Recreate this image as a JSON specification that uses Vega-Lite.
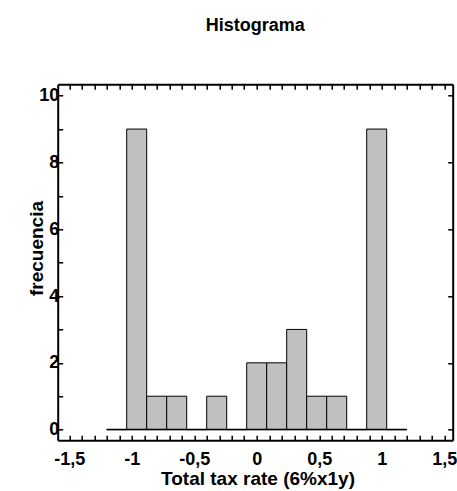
{
  "$schema": "https://vega.github.io/schema/vega-lite/v6.json",
  "width": 395,
  "height": 356,
  "autosize": "none",
  "padding": {"left": 57.7, "top": 84.3, "right": 4.3, "bottom": 50.7},
  "background": "white",
  "title": {"text": "Histograma", "font": "Liberation Sans", "fontSize": 18, "fontWeight": "bold", "color": "black", "anchor": "middle", "baseline": "alphabetic", "offset": 35},
  "config": {"view": {"stroke": null}, "font": "Liberation Sans"},
  "data": {"values": [
    {"bin_start": -1.2, "bin_end": -1.04, "count": 0},
    {"bin_start": -1.04, "bin_end": -0.88, "count": 9},
    {"bin_start": -0.88, "bin_end": -0.72, "count": 1},
    {"bin_start": -0.72, "bin_end": -0.56, "count": 1},
    {"bin_start": -0.56, "bin_end": -0.4, "count": 0},
    {"bin_start": -0.4, "bin_end": -0.24, "count": 1},
    {"bin_start": -0.24, "bin_end": -0.08, "count": 0},
    {"bin_start": -0.08, "bin_end": 0.08, "count": 2},
    {"bin_start": 0.08, "bin_end": 0.24, "count": 2},
    {"bin_start": 0.24, "bin_end": 0.4, "count": 3},
    {"bin_start": 0.4, "bin_end": 0.56, "count": 1},
    {"bin_start": 0.56, "bin_end": 0.72, "count": 1},
    {"bin_start": 0.72, "bin_end": 0.88, "count": 0},
    {"bin_start": 0.88, "bin_end": 1.04, "count": 9},
    {"bin_start": 1.04, "bin_end": 1.2, "count": 0}
  ]},
  "layer": [
    {
      "mark": {"type": "rect", "fill": "#c0c0c0", "stroke": "#000000", "strokeWidth": 1},
      "encoding": {
        "x": {"field": "bin_start", "type": "quantitative",
          "scale": {"domain": [-1.592, 1.568], "nice": false, "zero": false},
          "axis": {"orient": "bottom", "title": "Total tax rate (6%x1y)",
            "values": [-1.5,-1.4,-1.3,-1.2,-1.1,-1,-0.9,-0.8,-0.7,-0.6,-0.5,-0.4,-0.3,-0.2,-0.1,0,0.1,0.2,0.3,0.4,0.5,0.6,0.7,0.8,0.9,1,1.1,1.2,1.3,1.4,1.5],
            "labelExpr": "abs(round(datum.value*10)) % 5 == 0 ? replace(toString(round(datum.value*10)/10), '.', ',') : ''",
            "labelOverlap": false, "labelFlush": false,
            "labelFont": "Liberation Sans", "labelFontSize": 18, "labelFontWeight": "bold", "labelColor": "black",
            "labelBaseline": "alphabetic", "labelPadding": 29,
            "tickSize": -5, "tickColor": "black", "tickWidth": 1.5,
            "domainColor": "black", "domainWidth": 2, "grid": false,
            "titleFont": "Liberation Sans", "titleFontSize": 19, "titleFontWeight": "bold", "titleColor": "black",
            "titleBaseline": "alphabetic", "titleY": 44.3, "titleX": 199.8}},
        "x2": {"field": "bin_end"},
        "y": {"field": "count", "type": "quantitative",
          "scale": {"domain": [-0.32, 10.34], "nice": false, "zero": false},
          "axis": {"orient": "left", "title": "frecuencia",
            "values": [0,1,2,3,4,5,6,7,8,9,10],
            "labelExpr": "datum.value % 2 == 0 ? toString(datum.value) : ''",
            "labelOverlap": false, "labelFlush": false,
            "labelFont": "Liberation Sans", "labelFontSize": 18, "labelFontWeight": "bold", "labelColor": "black",
            "labelPadding": 4,
            "tickSize": -5, "tickColor": "black", "tickWidth": 1.5,
            "domainColor": "black", "domainWidth": 2, "grid": false,
            "titleFont": "Liberation Sans", "titleFontSize": 19, "titleFontWeight": "bold", "titleColor": "black",
            "titleBaseline": "alphabetic", "titleX": -15.7, "titleY": 163.7}},
        "y2": {"datum": 0}
      }
    },
    {
      "transform": [{"aggregate": [{"op": "min", "field": "bin_start", "as": "lo"}, {"op": "max", "field": "bin_end", "as": "hi"}]}],
      "mark": {"type": "rule", "color": "black", "strokeWidth": 1.5},
      "encoding": {
        "x": {"field": "lo", "type": "quantitative",
          "scale": {"domain": [-1.592, 1.568], "nice": false, "zero": false},
          "axis": {"orient": "top", "title": null, "labels": false,
            "values": [-1.5,-1.4,-1.3,-1.2,-1.1,-1,-0.9,-0.8,-0.7,-0.6,-0.5,-0.4,-0.3,-0.2,-0.1,0,0.1,0.2,0.3,0.4,0.5,0.6,0.7,0.8,0.9,1,1.1,1.2,1.3,1.4,1.5],
            "tickSize": -5, "tickColor": "black", "tickWidth": 1.5,
            "domainColor": "black", "domainWidth": 2, "grid": false}},
        "x2": {"field": "hi"},
        "y": {"datum": 0, "type": "quantitative",
          "scale": {"domain": [-0.32, 10.34], "nice": false, "zero": false},
          "axis": {"orient": "right", "title": null, "labels": false,
            "values": [0,2,4,6,8,10],
            "tickSize": -5, "tickColor": "black", "tickWidth": 1.5,
            "domainColor": "black", "domainWidth": 2, "grid": false}}
      }
    }
  ],
  "resolve": {"axis": {"x": "independent", "y": "independent"}}
}
